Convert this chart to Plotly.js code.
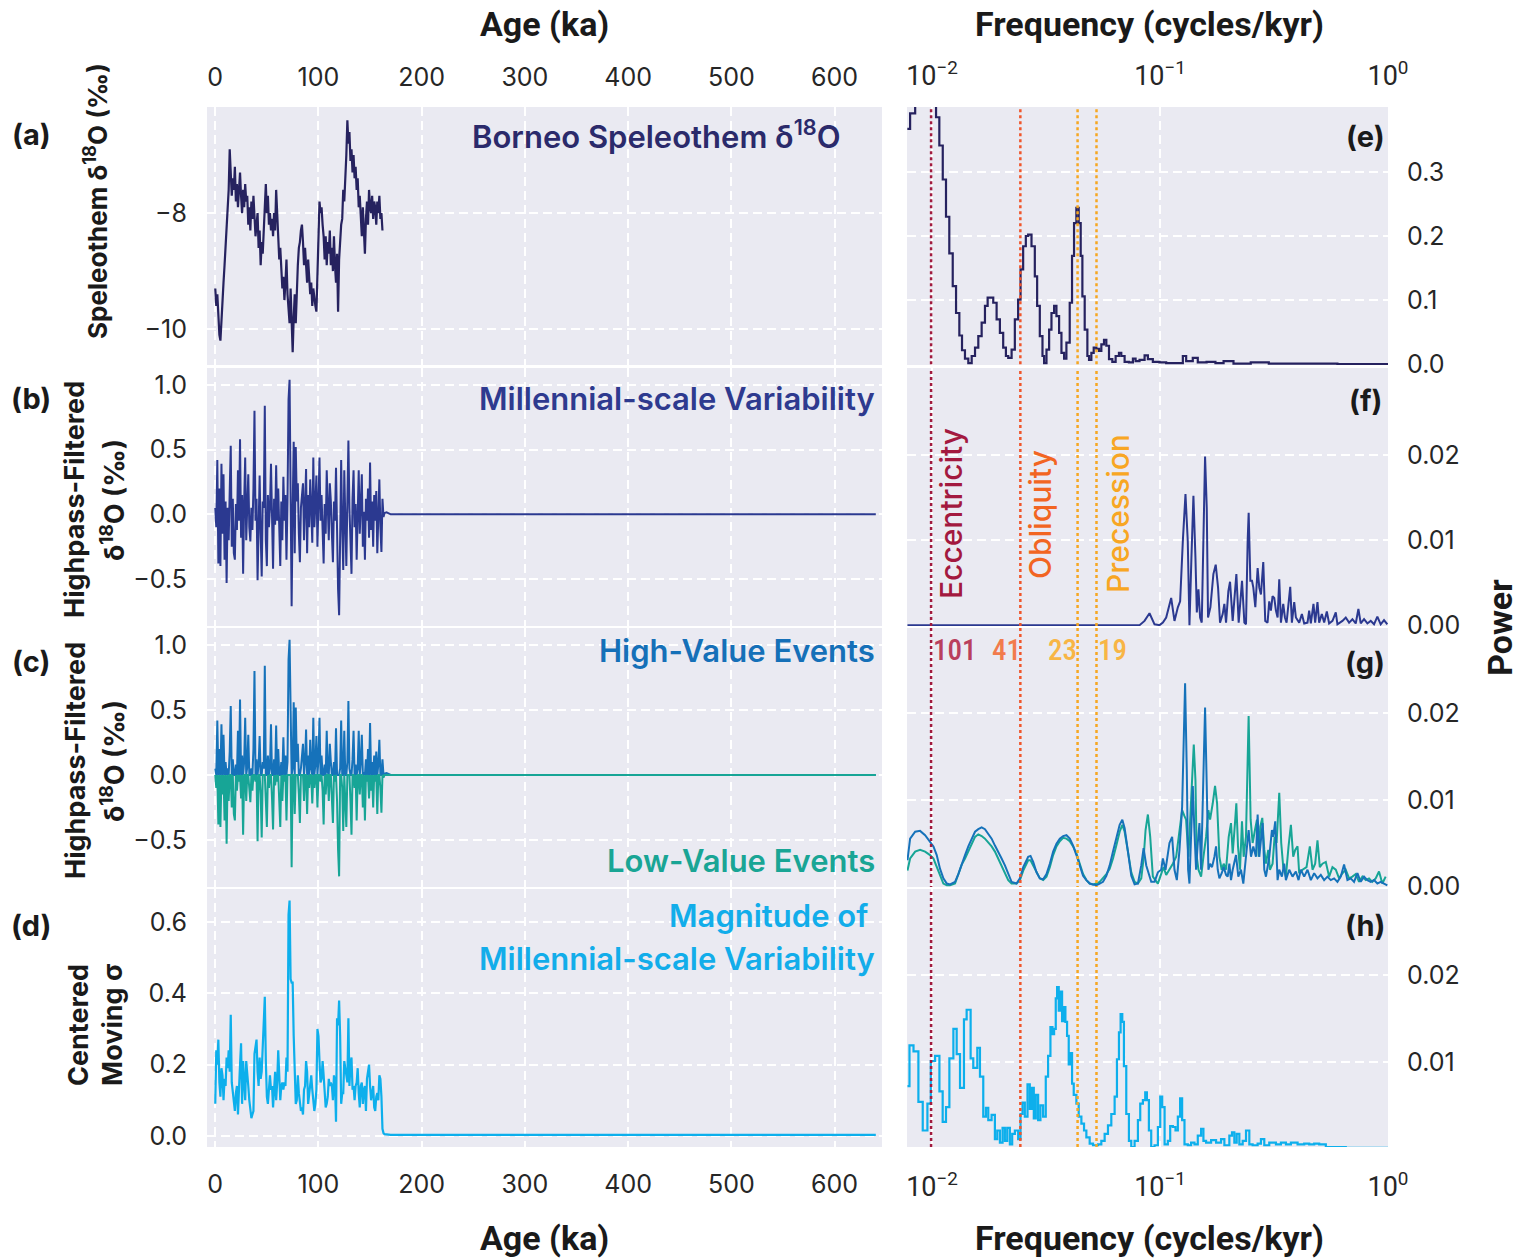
<!DOCTYPE html>
<html>
<head>
<meta charset="utf-8">
<script src="https://cdn.plot.ly/plotly-3.0.1.min.js"></script>
<style>html,body{margin:0;padding:0;background:#fff;}#chart{width:1532px;height:1258px;}</style>
</head>
<body>
<div id="chart"></div>
<script>
// ---------------- DATA ----------------
const ageKa = [0,1,2,3,4,5,6,7,8,9,10,11,12,13,14,15,16,17,18,19,20,21,22,23,24,25,26,27,28,29,30,31,32,33,34,35,36,37,38,39,40,41,42,43,44,45,46,47,48,49,50,51,52,53,54,55,56,57,58,59,60,61,62,63,64,65,66,67,68,69,70,71,72,73,74,75,76,77,78,79,80,81,82,83,84,85,86,87,88,89,90,91,92,93,94,95,96,97,98,99,100,101,102,103,104,105,106,107,108,109,110,111,112,113,114,115,116,117,118,119,120,121,122,123,124,125,126,127,128,129,130,131,132,133,134,135,136,137,138,139,140,141,142,143,144,145,146,147,148,149,150,151,152,153,154,155,156,157,158,159,160,161,162];
const speleothemD18O = [-9.3,-9.6,-9.4,-9.9,-10.1,-10.2,-9.8,-9.5,-9.2,-8.9,
-8.6,-8.4,-7.9,-7.6,-6.9,-7.3,-7.7,-7.4,-7.6,-7.2,
-7.8,-7.5,-7.9,-7.6,-7.3,-7.7,-8.0,-7.6,-7.9,-7.5,
-7.8,-7.7,-8.2,-7.9,-8.3,-7.8,-8.1,-7.7,-8.0,-8.4,
-8.2,-8.0,-8.6,-8.3,-8.9,-8.5,-8.7,-8.2,-7.9,-7.5,
-8.0,-7.7,-8.2,-8.0,-8.3,-8.1,-8.4,-8.0,-8.3,-7.6,
-8.0,-8.5,-8.8,-8.6,-9.0,-9.3,-9.1,-9.5,-9.2,-8.8,
-9.4,-9.6,-9.9,-9.3,-10.1,-10.4,-9.8,-9.4,-9.9,-9.3,
-8.9,-8.6,-8.5,-8.3,-8.2,-8.5,-8.9,-8.6,-9.0,-9.2,
-8.8,-9.1,-9.4,-9.2,-9.6,-9.3,-9.5,-9.6,-9.7,-8.9,
-8.3,-7.8,-8.0,-7.9,-8.2,-8.4,-8.8,-8.4,-8.9,-8.5,
-8.7,-8.3,-8.9,-8.6,-9.0,-8.4,-8.9,-9.2,-8.7,-9.7,
-8.8,-8.4,-8.2,-8.1,-7.6,-7.8,-7.5,-7.0,-6.4,-6.8,
-6.6,-7.1,-6.9,-7.3,-7.0,-7.4,-7.2,-7.6,-7.4,-7.9,
-7.7,-8.0,-8.4,-7.9,-8.3,-8.7,-8.1,-7.8,-8.2,-7.6,
-7.9,-8.0,-7.7,-8.1,-7.8,-7.9,-8.2,-7.8,-8.0,-7.7,
-8.1,-8.0,-8.3];
const highpassD18O = [0.05,-0.10,0.42,-0.38,0.20,-0.40,0.39,-0.15,0.31,-0.35,
0.10,-0.53,0.05,-0.20,0.18,0.53,-0.25,0.12,-0.30,-0.35,
0.08,-0.12,0.34,-0.05,0.58,-0.18,0.15,-0.46,0.10,0.44,
-0.20,0.06,0.31,-0.10,-0.21,0.05,-0.12,0.20,0.80,-0.05,
0.12,-0.51,0.08,0.30,-0.15,-0.48,0.10,0.05,0.84,-0.20,
-0.40,0.15,-0.10,0.05,0.39,-0.18,-0.42,0.12,-0.08,0.38,
-0.05,0.20,-0.15,-0.40,0.10,-0.20,0.29,-0.05,0.15,-0.35,
0.10,0.89,1.04,0.30,-0.71,0.05,0.56,-0.30,0.52,0.10,
0.24,-0.15,-0.37,0.05,0.18,0.24,-0.20,0.10,0.35,-0.30,
0.15,-0.10,0.27,0.05,-0.22,0.44,-0.10,0.08,0.30,-0.25,
0.12,0.44,-0.05,0.15,-0.12,-0.38,0.08,-0.15,0.34,0.02,
-0.20,0.24,0.10,-0.15,-0.37,0.10,-0.05,0.36,-0.20,-0.58,
-0.78,0.05,0.42,-0.10,-0.43,0.34,-0.15,-0.40,0.10,0.57,
0.05,-0.20,-0.46,0.12,0.34,-0.10,0.08,-0.35,0.05,0.34,
-0.15,0.10,0.31,-0.25,0.02,-0.35,0.12,-0.05,0.20,-0.18,
0.40,-0.12,0.10,-0.25,0.15,-0.05,0.18,-0.30,0.08,0.27,
-0.10,-0.29,0.12];
const movingSigma = [0.09,0.24,0.20,0.27,0.15,0.11,0.19,0.17,0.10,0.16,
0.14,0.22,0.19,0.24,0.18,0.34,0.15,0.12,0.08,0.07,
0.12,0.14,0.06,0.17,0.20,0.26,0.09,0.21,0.14,0.10,
0.21,0.16,0.14,0.10,0.08,0.05,0.06,0.07,0.23,0.25,
0.27,0.18,0.14,0.22,0.16,0.18,0.26,0.29,0.39,0.21,
0.11,0.09,0.12,0.17,0.13,0.14,0.08,0.12,0.18,0.10,
0.15,0.24,0.17,0.10,0.14,0.15,0.13,0.15,0.14,0.22,
0.18,0.62,0.66,0.44,0.43,0.43,0.28,0.14,0.09,0.10,
0.17,0.12,0.10,0.07,0.08,0.06,0.13,0.14,0.21,0.18,
0.09,0.12,0.14,0.17,0.13,0.10,0.07,0.09,0.13,0.30,
0.28,0.21,0.15,0.16,0.21,0.17,0.10,0.08,0.09,0.11,
0.16,0.14,0.15,0.14,0.10,0.17,0.15,0.04,0.33,0.31,
0.38,0.28,0.09,0.12,0.12,0.21,0.19,0.16,0.15,0.33,
0.14,0.20,0.22,0.13,0.14,0.10,0.14,0.15,0.19,0.12,
0.08,0.14,0.15,0.09,0.13,0.14,0.07,0.16,0.19,0.20,
0.14,0.10,0.12,0.14,0.08,0.07,0.11,0.12,0.10,0.17,
0.16,0.11,0.02];
const tailAgeKa = [163,164,166,170,640];
const highpassTail = [-0.02,0.01,0.015,0.0,0.0];
const sigmaTail = [0.008,0.005,0.004,0.003,0.003];

// Spectrum (e): Borneo speleothem
const eFreq = [0.00779,0.00801,0.00843,0.0092,0.01013,0.01041,0.01076,0.01114,0.01151,0.0119,
0.01232,0.01274,0.01317,0.01353,0.01394,0.01442,0.01492,0.01543,0.01595,0.0165,
0.01706,0.01753,0.01794,0.01855,0.01919,0.01984,0.02051,0.02108,0.02158,0.02233,
0.02307,0.02385,0.02444,0.02509,0.02578,0.02639,0.0273,0.02823,0.0289,0.02969,
0.0305,0.031,0.03176,0.03262,0.0334,0.03431,0.03512,0.03608,0.03694,0.03794,
0.03884,0.04016,0.04111,0.04195,0.04295,0.04397,0.04487,0.04564,0.04672,0.048,
0.04881,0.04997,0.05117,0.05256,0.054,0.05528,0.05678,0.05813,0.05972,0.06175,
0.06386,0.06603,0.06761,0.06992,0.07303,0.07603,0.07811,0.0813,0.08555,0.08845,
0.093,0.0995,0.1064,0.115,0.1259,0.1302,0.1392,0.1464,0.16,0.175,
0.19,0.21,0.25,0.3,0.4,0.6,1.0];
const ePower = [0.367,0.391,0.5,0.6,0.45,0.385,0.341,0.288,0.23,0.173,
0.122,0.080,0.045,0.022,0.009,0.002,0.013,0.026,0.044,0.065,
0.091,0.104,0.104,0.096,0.070,0.049,0.026,0.013,0.010,0.023,
0.070,0.101,0.148,0.184,0.200,0.202,0.184,0.137,0.091,0.044,
0.013,0.002,0.023,0.054,0.080,0.091,0.075,0.049,0.018,0.009,
0.034,0.096,0.169,0.220,0.244,0.220,0.169,0.106,0.054,0.013,
0.007,0.018,0.026,0.024,0.021,0.031,0.038,0.029,0.008,0.004,
0.013,0.018,0.013,0.004,0.003,0.009,0.005,0.007,0.014,0.008,
0.004,0.003,0.002,0.002,0.013,0.005,0.010,0.003,0.004,0.002,
0.005,0.001,0.003,0.001,0.001,0.0005,0.0005];

// Spectrum (f): millennial-scale variability
const fFreq = [0.0078,0.0735,0.0813,0.0855,0.0899,0.0946,0.0995,0.1029,0.1064,0.1119,
0.1157,0.1197,0.1225,0.1259,0.1293,0.1323,0.1346,0.1373,0.1401,0.143,
0.145,0.1474,0.1499,0.1524,0.155,0.1576,0.1603,0.1624,0.1663,0.1714,
0.1755,0.1797,0.1833,0.1883,0.1915,0.1948,0.1994,0.2028,0.2083,0.2118,
0.2162,0.2213,0.2251,0.2289,0.2344,0.2383,0.2423,0.2448,0.249,0.2532,
0.2566,0.2618,0.268,0.2725,0.2771,0.2837,0.2894,0.2963,0.3013,0.3064,
0.3116,0.317,0.3224,0.3279,0.3334,0.3391,0.3471,0.353,0.359,0.3663,
0.3725,0.3788,0.3878,0.3944,0.4078,0.419,0.429,0.4435,0.451,0.4587,
0.4711,0.4791,0.4905,0.4989,0.5126,0.5248,0.539,0.5518,0.5707,0.5901,
0.6001,0.6311,0.6527,0.675,0.698,0.7219,0.7416,0.7592,0.7852,0.812,
0.8397,0.8684,0.8981,0.9288,0.9605,0.9933];
const fPower = [0,0,0,0.0005,0.0014,0.0001,0,0.0003,0.0009,0.0032,
0.0005,0.0021,0.0028,0.0099,0.0154,0.0099,0,0.0079,0.0152,0.0079,
0.0015,0.0042,0.0009,0.0003,0.0099,0.0198,0.0138,0.0009,0.0021,0.006,
0.0071,0.0044,0.0003,0.0013,0.0025,0.0003,0.004,0.0051,0.0005,0.0032,
0.006,0.0003,0.0028,0.0052,0.0003,0.0001,0.0099,0.0132,0.0052,0.0052,
0.0044,0.0021,0.0067,0.0044,0.0036,0.0074,0.0005,0.0003,0.0028,0.0017,
0.0034,0.0032,0.0017,0.0009,0.0054,0.0003,0.0025,0.0009,0.0003,0.0025,
0.0045,0.0003,0.0027,0.0009,0.0003,0.0013,0.0002,0.0003,0.0017,0.0002,
0.0025,0.0003,0.0027,0.0003,0.0013,0.0003,0.0016,0.0002,0.0005,0.0015,
0.0001,0.0005,0.0009,0.0003,0.0007,0.0002,0.0019,0.0002,0.0007,0.0002,
0.0005,0.0001,0.001,0.0001,0.0006,0.0001];

// Spectrum (g): high-value events
const gHighFreq = [0.0078,0.00801,0.00843,0.00886,0.00932,0.0098,0.01014,0.01048,0.01084,0.01121,
0.0116,0.01199,0.01261,0.01304,0.01349,0.01395,0.01442,0.01492,0.01543,0.01595,
0.0165,0.01706,0.01764,0.01825,0.01887,0.01951,0.02018,0.02087,0.02158,0.02232,
0.02347,0.02428,0.02511,0.0264,0.02703,0.02777,0.02872,0.0297,0.03071,0.03176,
0.03285,0.03397,0.03513,0.03633,0.03757,0.03886,0.04018,0.04155,0.04297,0.04444,
0.04596,0.04753,0.04915,0.05083,0.05257,0.05436,0.05622,0.05814,0.06013,0.06218,
0.06431,0.06651,0.06832,0.06994,0.07232,0.07479,0.07734,0.07999,0.08272,0.08469,
0.087,0.0915,0.09462,0.09786,0.1012,0.1029,0.1057,0.11,0.113,0.1157,
0.1185,0.1217,0.125,0.1271,0.1288,0.131,0.1328,0.1346,0.1369,0.1392,
0.1415,0.1439,0.1464,0.1489,0.1514,0.1539,0.1576,0.1603,0.163,0.1658,
0.1691,0.1732,0.1761,0.1791,0.1821,0.1864,0.1902,0.1948,0.1981,0.2014,
0.2048,0.2083,0.2154,0.2205,0.2265,0.2319,0.2382,0.2447,0.2506,0.2565,
0.2635,0.268,0.2725,0.2771,0.2818,0.2866,0.2915,0.3014,0.3096,0.3138,
0.3202,0.3278,0.3334,0.3424,0.3506,0.3565,0.3687,0.3813,0.3943,0.4051,
0.4147,0.4289,0.4435,0.4587,0.4744,0.4905,0.5072,0.5246,0.5425,0.561,
0.5802,0.6,0.6206,0.6417,0.6637,0.6864,0.7098,0.7341,0.7591,0.7851,
0.8119,0.8396,0.8683,0.898,0.9287,0.9603,0.9932];
const gHighPower = [0.0030,0.0055,0.0063,0.0064,0.0059,0.0051,0.0046,0.0036,0.0020,0.0009,
0.0003,0.0002,0.0005,0.0014,0.0026,0.0036,0.0046,0.0055,0.0063,0.0066,
0.0068,0.0066,0.0061,0.0055,0.0047,0.0040,0.0032,0.0024,0.0014,0.0005,
0.0003,0.0009,0.0022,0.0034,0.0035,0.0028,0.0016,0.0009,0.0008,0.0014,
0.0026,0.0040,0.0049,0.0055,0.0058,0.0059,0.0055,0.0047,0.0036,0.0024,
0.0012,0.0007,0.0003,0.0002,0.0001,0.0003,0.0005,0.0012,0.0024,0.0040,
0.0055,0.0071,0.0077,0.0067,0.0040,0.0012,0.0002,0.0003,0.0024,0.0044,
0.0024,0.0005,0.0005,0.0016,0.0019,0.0032,0.0019,0.0050,0.0057,0.0019,
0.0007,0.0042,0.0092,0.0174,0.0235,0.0135,0.0019,0.0003,0.0050,0.0116,
0.0065,0.0019,0.0050,0.0073,0.0019,0.0096,0.0207,0.0116,0.0019,0.0026,
0.0022,0.0034,0.0046,0.0019,0.0009,0.0015,0.0022,0.0013,0.0011,0.0026,
0.0007,0.0019,0.0036,0.0011,0.0019,0.0003,0.0034,0.0065,0.0034,0.0046,
0.0034,0.0083,0.0034,0.0057,0.0073,0.0019,0.0011,0.0034,0.0065,0.0057,
0.0075,0.0007,0.0019,0.0011,0.0026,0.0007,0.0019,0.0011,0.0017,0.0007,
0.0019,0.0011,0.0019,0.0007,0.0015,0.0009,0.0013,0.0007,0.0011,0.0007,
0.0009,0.0005,0.0011,0.0025,0.0007,0.0009,0.0005,0.0015,0.0005,0.0011,
0.0007,0.0005,0.0007,0.0003,0.0005,0.0003,0.0001];

// Spectrum (g): low-value events
const gLowFreq = [0.0078,0.00801,0.00843,0.00886,0.00932,0.0098,0.01014,0.01048,0.01084,0.01121,
0.0116,0.01199,0.01261,0.01304,0.01349,0.01395,0.01442,0.01492,0.01543,0.01595,
0.0165,0.01706,0.01764,0.01825,0.01887,0.01951,0.02018,0.02087,0.02158,0.02232,
0.02347,0.02428,0.02511,0.0264,0.02703,0.02777,0.02872,0.0297,0.03071,0.03176,
0.03285,0.03397,0.03513,0.03633,0.03757,0.03886,0.04018,0.04155,0.04297,0.04444,
0.04596,0.04753,0.04915,0.05083,0.05257,0.05436,0.05622,0.05814,0.06013,0.06218,
0.06431,0.06651,0.06832,0.06994,0.07232,0.07479,0.07734,0.07999,0.08272,0.08469,
0.0864,0.08844,0.09055,0.09301,0.09782,0.1012,0.1036,0.1064,0.11,0.1138,
0.1177,0.1217,0.125,0.128,0.1301,0.1332,0.1369,0.1406,0.143,0.1449,
0.1474,0.1514,0.155,0.1592,0.163,0.1658,0.1703,0.1743,0.1779,0.1821,
0.1864,0.1902,0.1948,0.2001,0.2048,0.2083,0.2132,0.2161,0.2198,0.2243,
0.2288,0.2327,0.2382,0.2447,0.2497,0.2548,0.2609,0.2662,0.2707,0.2753,
0.2809,0.2866,0.2915,0.2984,0.3034,0.3117,0.3181,0.3245,0.3334,0.3401,
0.3471,0.3565,0.3662,0.375,0.3839,0.3917,0.401,0.4078,0.4217,0.4391,
0.4541,0.4665,0.4792,0.4905,0.5022,0.5158,0.5335,0.5517,0.5706,0.5901,
0.6102,0.6311,0.6526,0.675,0.698,0.7218,0.7465,0.772,0.7984,0.8256,
0.8538,0.883,0.9132,0.9444,0.9766];
const gLowPower = [0.0018,0.0032,0.0040,0.0042,0.0040,0.0036,0.0032,0.0022,0.0011,0.0003,
0.0001,0.0001,0.0003,0.0014,0.0025,0.0032,0.0040,0.0049,0.0057,0.0060,
0.0058,0.0055,0.0051,0.0046,0.0040,0.0032,0.0024,0.0016,0.0007,0.0003,
0.0003,0.0007,0.0018,0.0030,0.0030,0.0024,0.0016,0.0009,0.0007,0.0011,
0.0022,0.0036,0.0046,0.0052,0.0056,0.0055,0.0052,0.0046,0.0038,0.0026,
0.0014,0.0007,0.0003,0.0002,0.0003,0.0005,0.0009,0.0014,0.0020,0.0032,
0.0047,0.0063,0.0071,0.0063,0.0040,0.0016,0.0005,0.0003,0.0009,0.0032,
0.0065,0.0083,0.0057,0.0011,0.0003,0.0015,0.0022,0.0013,0.0019,0.0026,
0.0034,0.0065,0.0088,0.0081,0.0077,0.0034,0.0096,0.0164,0.0123,0.0034,
0.0019,0.0011,0.0034,0.0057,0.0088,0.0077,0.0096,0.0116,0.0096,0.0034,
0.0019,0.0026,0.0019,0.0057,0.0073,0.0038,0.0073,0.0096,0.0046,0.0019,
0.0075,0.0034,0.0057,0.0197,0.0077,0.0050,0.0065,0.0077,0.0034,0.0069,
0.0079,0.0042,0.0026,0.0042,0.0019,0.0026,0.0057,0.0050,0.0108,0.0050,
0.0022,0.0011,0.0046,0.0071,0.0034,0.0042,0.0046,0.0015,0.0019,0.0022,
0.0046,0.0019,0.0026,0.0053,0.0022,0.0026,0.0028,0.0011,0.0022,0.0019,
0.0009,0.0015,0.0019,0.0009,0.0011,0.0014,0.0005,0.0011,0.0007,0.0009,
0.0005,0.0009,0.0017,0.0003,0.0011];

// Spectrum (h): magnitude of millennial-scale variability
const hFreq = [0.0078,0.00796,0.00829,0.00871,0.0091,0.00954,0.00987,0.01031,0.01077,0.01113,
0.01151,0.01191,0.0124,0.01282,0.01326,0.0138,0.01418,0.01476,0.01516,0.01579,
0.01622,0.01677,0.01723,0.01764,0.01824,0.01886,0.01931,0.01984,0.02038,0.02086,
0.02136,0.02194,0.02246,0.02308,0.02386,0.02443,0.02493,0.02552,0.02622,0.02684,
0.02739,0.02794,0.02851,0.02919,0.02988,0.0307,0.03153,0.03228,0.03305,0.03373,
0.0343,0.03488,0.03535,0.03595,0.03656,0.03718,0.03781,0.03845,0.0391,0.03976,
0.04043,0.04112,0.04182,0.04296,0.04398,0.04518,0.04641,0.04751,0.04913,0.05081,
0.05344,0.05526,0.05715,0.0591,0.06112,0.06321,0.06471,0.06603,0.06715,0.06829,
0.06944,0.0711,0.07304,0.07477,0.07733,0.07997,0.08187,0.0841,0.0861,0.08756,
0.08935,0.09147,0.0946,0.09785,0.1002,0.1022,0.1047,0.1082,0.1108,0.1138,
0.1169,0.1197,0.1225,0.125,0.128,0.1324,0.1369,0.1416,0.1464,0.1514,
0.155,0.1592,0.1675,0.1761,0.1852,0.1915,0.2014,0.2069,0.2118,0.2169,
0.2228,0.2304,0.2383,0.2464,0.2548,0.268,0.2771,0.2866,0.3014,0.3225,
0.3391,0.3567,0.3751,0.4012,0.429,0.4512,0.4745,0.499,0.5337,0.5708,
0.6529,0.7984,1.0];
const hPower = [0.0072,0.0119,0.0112,0.0054,0.0021,0.0052,0.0101,0.0107,0.0066,0.0031,
0.0048,0.0104,0.0138,0.0109,0.0070,0.0149,0.0160,0.0104,0.0093,0.0116,
0.0083,0.0037,0.0047,0.0033,0.0039,0.0011,0.0021,0.0007,0.0024,0.0009,
0.0024,0.0005,0.0017,0.0021,0.0011,0.0040,0.0053,0.0037,0.0074,0.0046,
0.0070,0.0035,0.0062,0.0033,0.0050,0.0037,0.0083,0.0107,0.0140,0.0132,
0.0138,0.0173,0.0186,0.0159,0.0181,0.0147,0.0163,0.0146,0.0130,0.0097,
0.0110,0.0075,0.0062,0.0052,0.0037,0.0029,0.0021,0.0013,0.0006,0.0004,
0.0005,0.0009,0.0017,0.0027,0.0040,0.0060,0.0103,0.0134,0.0155,0.0146,
0.0095,0.0040,0.0009,0.0002,0.0009,0.0033,0.0052,0.0056,0.0065,0.0056,
0.0021,0.0002,0.0004,0.0025,0.0060,0.0048,0.0005,0.0009,0.0026,0.0025,
0.0021,0.0037,0.0058,0.0033,0.0005,0.0004,0.0007,0.0005,0.0015,0.0023,
0.0009,0.0007,0.0010,0.0007,0.0011,0.0004,0.0015,0.0019,0.0007,0.0017,
0.0005,0.0009,0.0021,0.0005,0.0004,0.0006,0.0011,0.0004,0.0007,0.0005,
0.0007,0.0005,0.0007,0.0005,0.0006,0.0005,0.0006,0.0005,0.0002,0.0002,
0.0001,0.0001,0.0001];

// Orbital cycles (periods in kyr)
const orbitalNames = ['Eccentricity','Obliquity','Precession','Precession'];
const orbitalPeriods = [101, 41, 23, 19];
const orbitalLabels = ['101','41','23','19'];

// Tick labels
const ageTicks = [0,100,200,300,400,500,600];
const ageTickText = ['0','100','200','300','400','500','600'];
const freqTicks = [0.01, 0.1, 1];
const freqTickText = ['10<sup>\u22122</sup>','10<sup>\u22121</sup>','10<sup>0</sup>'];
const aTicks = [-10,-8], aTickText = ['\u221210','\u22128'];
const hpTicks = [-0.5,0,0.5,1.0], hpTickText = ['\u22120.5','0.0','0.5','1.0'];
const dTicks = [0,0.2,0.4,0.6], dTickText = ['0.0','0.2','0.4','0.6'];
const eTicks = [0,0.1,0.2,0.3], eTickText = ['0.0','0.1','0.2','0.3'];
const fgTicks = [0,0.01,0.02], fgTickText = ['0.00','0.01','0.02'];
const hTicks = [0.01,0.02], hTickText = ['0.01','0.02'];

// ---------------- LAYOUT HELPERS ----------------
const W = 1532, H = 1258;
const px = x => x / W;
const py = y => 1 - y / H;
const ydom = (top, bot) => [1 - bot / H, 1 - top / H];
const leftX = [207 / W, 882 / W];
const rightX = [907 / W, 1388 / W];
const rowsPx = [[107,365],[368,626],[628,887],[889,1147]];

const C = {
  spel: '#26225F', hp: '#2B3990', high: '#1672BA', low: '#17A596', sigma: '#0DAFEC',
  ecc: '#A11B3F', obl: '#F0562B', prec: '#F6A722'
};
const orbitalColors = [C.ecc, C.obl, C.prec, C.prec];
const orbitalTextColors = ['#B9405D','#F27B4C','#F8B545','#F8B545'];

const tickFont = {family: 'Inter, "Open Sans", sans-serif', size: 25, color: '#262626'};
const logTickFont = {family: 'Roboto, "Liberation Sans Narrow", sans-serif', size: 27, color: '#262626'};
const gridBase = {showgrid: true, gridcolor: '#FFFFFF', gridwidth: 2, griddash: '9px,5px',
  zeroline: false, showline: false, fixedrange: true, automargin: false,
  ticks: 'outside', ticklen: 14, tickcolor: 'rgba(0,0,0,0)'};

// ---------------- TRACES ----------------
const ageAll = ageKa.concat(tailAgeKa);
const hpAll = highpassD18O.concat(highpassTail);
const sigmaAll = movingSigma.concat(sigmaTail);
const highEvents = hpAll.map(v => v > 0 ? v : 0);
const lowEvents = hpAll.map(v => v < 0 ? v : 0);

const traces = [
  {x: ageKa, y: speleothemD18O, xaxis: 'x', yaxis: 'y', type: 'scatter', mode: 'lines', line: {color: C.spel, width: 2.2}},
  {x: ageAll, y: hpAll, xaxis: 'x2', yaxis: 'y2', type: 'scatter', mode: 'lines', line: {color: C.hp, width: 2}},
  {x: ageAll, y: highEvents, xaxis: 'x3', yaxis: 'y3', type: 'scatter', mode: 'lines', line: {color: C.high, width: 2}},
  {x: ageAll, y: lowEvents, xaxis: 'x3', yaxis: 'y3', type: 'scatter', mode: 'lines', line: {color: C.low, width: 2}},
  {x: ageAll, y: sigmaAll, xaxis: 'x4', yaxis: 'y4', type: 'scatter', mode: 'lines', line: {color: C.sigma, width: 2.2}},
  {x: eFreq, y: ePower, xaxis: 'x5', yaxis: 'y5', type: 'scatter', mode: 'lines', line: {color: C.spel, width: 2.2, shape: 'hv'}},
  {x: fFreq, y: fPower, xaxis: 'x6', yaxis: 'y6', type: 'scatter', mode: 'lines', line: {color: C.hp, width: 2}},
  {x: gLowFreq, y: gLowPower, xaxis: 'x7', yaxis: 'y7', type: 'scatter', mode: 'lines', line: {color: C.low, width: 2}},
  {x: gHighFreq, y: gHighPower, xaxis: 'x7', yaxis: 'y7', type: 'scatter', mode: 'lines', line: {color: C.high, width: 2}},
  {x: hFreq, y: hPower, xaxis: 'x8', yaxis: 'y8', type: 'scatter', mode: 'lines', line: {color: C.sigma, width: 2.2, shape: 'hv'}}
];
// orbital reference lines on every spectrum panel
[5,6,7,8].forEach(k => {
  orbitalPeriods.forEach((p, i) => {
    traces.push({x: [1 / p, 1 / p], y: [-1, 1], xaxis: 'x' + k, yaxis: 'y' + k, type: 'scatter', mode: 'lines',
      line: {color: orbitalColors[i], width: 2.5, dash: 'dot'}});
  });
});

// ---------------- AXES ----------------
const layout = {
  width: W, height: H, margin: {l: 0, r: 0, t: 0, b: 0, pad: 0},
  paper_bgcolor: '#FFFFFF', plot_bgcolor: '#EAEAF2', showlegend: false, hovermode: false,
  font: {family: 'Inter, sans-serif', color: '#262626'}
};
const leftYTicks = [[aTicks, aTickText, [-10.62, -6.17]], [hpTicks, hpTickText, [-0.863, 1.131]],
  [hpTicks, hpTickText, [-0.862, 1.131]], [dTicks, dTickText, [-0.031, 0.6925]]];
const rightYTicks = [[eTicks, eTickText, [-0.001, 0.401]], [fgTicks, fgTickText, [-0.0001, 0.0302]],
  [fgTicks, fgTickText, [-0.0001, 0.0299]], [hTicks, hTickText, [0.0002, 0.0299]]];
for (let r = 0; r < 4; r++) {
  const li = r + 1, ri = r + 5;
  const lk = li === 1 ? '' : String(li);
  const dom = ydom(rowsPx[r][0], rowsPx[r][1]);
  const labelSide = r === 0 ? 'top' : (r === 3 ? 'bottom' : null);
  layout['xaxis' + lk] = Object.assign({}, gridBase, {
    domain: leftX, anchor: 'y' + lk, range: [-8, 646], tickvals: ageTicks, ticktext: ageTickText,
    showticklabels: !!labelSide, side: labelSide || 'bottom', tickfont: tickFont, ticklen: r === 3 ? 15 : 10
  });
  layout['yaxis' + lk] = Object.assign({}, gridBase, {
    domain: dom, anchor: 'x' + lk, range: leftYTicks[r][2], tickvals: leftYTicks[r][0], ticktext: leftYTicks[r][1],
    tickfont: tickFont, ticklen: 14
  });
  layout['xaxis' + ri] = Object.assign({}, gridBase, {
    domain: rightX, anchor: 'y' + ri, type: 'log', range: [-2.11, 0], tickvals: freqTicks, ticktext: freqTickText,
    showticklabels: !!labelSide, side: labelSide || 'bottom', tickfont: logTickFont, ticklen: r === 3 ? 16 : 10
  });
  layout['yaxis' + ri] = Object.assign({}, gridBase, {
    domain: dom, anchor: 'x' + ri, side: 'right', range: rightYTicks[r][2], tickvals: rightYTicks[r][0],
    ticktext: rightYTicks[r][1], tickfont: tickFont, ticklen: 13
  });
}

// ---------------- TEXT ----------------
const ann = [];
function addText(text, x, y, o) {
  o = o || {};
  ann.push({xref: 'paper', yref: 'paper', x: px(x), y: py(y), text: text, showarrow: false,
    xanchor: o.xanchor || 'center', yanchor: o.yanchor || 'middle', textangle: o.angle || 0, align: o.align || 'center',
    font: {family: o.family || 'Inter, sans-serif', size: o.size || 24, color: o.color || '#1a1a1a', weight: o.weight || 400}});
}
const titleFam = 'Roboto, Inter, sans-serif';
addText('Age (ka)', 544, 24, {family: titleFam, size: 34, weight: 700});
addText('Age (ka)', 544, 1238, {family: titleFam, size: 34, weight: 700});
addText('Frequency (cycles/kyr)', 1149, 24, {family: titleFam, size: 34, weight: 700});
addText('Frequency (cycles/kyr)', 1149, 1238, {family: titleFam, size: 34, weight: 700});
addText('Power', 1500, 628, {family: titleFam, size: 34, weight: 700, angle: -90});

['(a)','(b)','(c)','(d)'].forEach((t, i) => addText(t, 31, [135, 398, 661, 925][i], {size: 29, weight: 700}));
['(e)','(f)','(g)','(h)'].forEach((t, i) => addText(t, 1365, [137, 400, 662, 925][i], {size: 29, weight: 700}));

addText('Speleothem \u03b4<sup>18</sup>O (\u2030)', 96, 201, {angle: -90, size: 26, weight: 700});
addText('Highpass-Filtered', 75, 500, {angle: -90, size: 27, weight: 700});
addText('\u03b4<sup>18</sup>O (\u2030)', 113, 500, {angle: -90, size: 27, weight: 700});
addText('Highpass-Filtered', 75, 761, {angle: -90, size: 27, weight: 700});
addText('\u03b4<sup>18</sup>O (\u2030)', 113, 761, {angle: -90, size: 27, weight: 700});
addText('Centered', 78, 1025, {angle: -90, size: 27, weight: 700});
addText('Moving \u03c3', 112, 1025, {angle: -90, size: 27, weight: 700});

addText('Borneo Speleothem \u03b4<sup>18</sup>O', 843, 135, {xanchor: 'right', size: 31, weight: 600, color: '#2B2A6B'});
addText('Millennial-scale Variability', 877, 398, {xanchor: 'right', size: 31, weight: 600, color: '#2E3A8F'});
addText('High-Value Events', 877, 650, {xanchor: 'right', size: 31, weight: 600, color: '#1570B8'});
addText('Low-Value Events', 877, 860, {xanchor: 'right', size: 31, weight: 600, color: '#19A595'});
addText('Magnitude of', 870, 915, {xanchor: 'right', size: 31, weight: 600, color: '#12ADEA'});
addText('Millennial-scale Variability', 877, 958, {xanchor: 'right', size: 31, weight: 600, color: '#12ADEA'});

addText(orbitalNames[0], 951, 514, {angle: -90, size: 30, weight: 500, color: '#A3193F'});
addText(orbitalNames[1], 1040, 515, {angle: -90, size: 30, weight: 500, color: '#F26522'});
addText(orbitalNames[2], 1118, 514, {angle: -90, size: 30, weight: 500, color: '#F8A623'});
const numX = [955, 1006, 1062, 1112];
orbitalLabels.forEach((t, i) => addText(t, numX[i], 650,
  {family: '"Roboto Condensed", "DejaVu Sans Condensed", Roboto, sans-serif', size: 29, weight: 500, color: orbitalTextColors[i]}));
layout.annotations = ann;

Plotly.newPlot('chart', traces, layout, {displayModeBar: false, staticPlot: true});
</script>
</body>
</html>
